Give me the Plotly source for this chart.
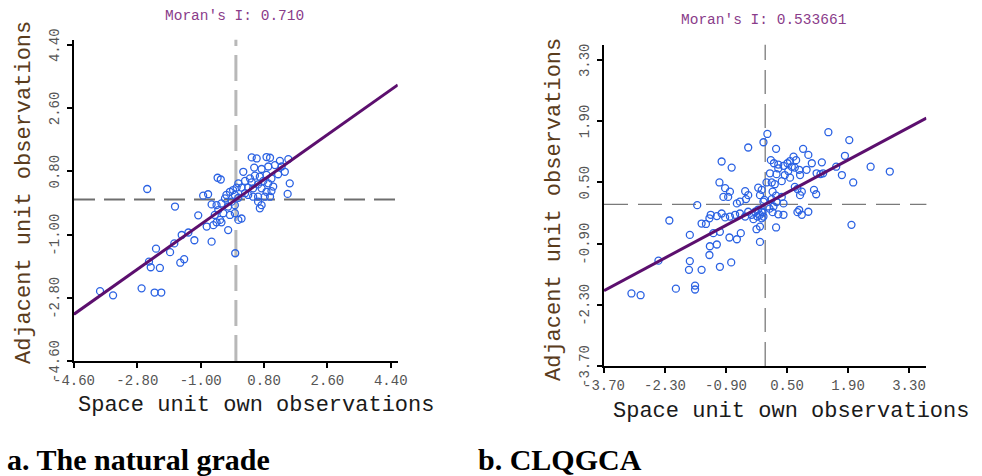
import plotly.graph_objects as go

# ---------------- data ----------------
moran_a = 0.710
moran_b = 0.533661

xa = [-2.52, -1.73, -1.07, -0.52, -0.43, -0.93, -0.79, -0.69, -0.55, -0.41,
      -0.31, -0.27, -0.17, -0.08, 0.02, -0.03, 0.07, -0.12, -0.22, -0.03,
      -0.50, -0.36, -0.60, -0.45, -0.55, -0.41, -0.17, -0.03, 0.16, 0.07,
      -0.22, -0.83, -0.64, 0.45, 0.59, 0.87, 0.97, 1.25, 1.49, 0.52,
      0.73, 0.92, 1.11, 1.30, 0.21, 0.40, 0.54, 0.68, 0.87, 1.01,
      1.20, 1.39, 0.26, 0.45, 0.63, 0.78, 0.92, 1.06, 0.07, 0.16,
      0.35, 0.49, 0.73, 0.87, 1.01, 0.82, 0.97, 0.63, 0.49, 0.35,
      0.26, 0.63, 0.73, 0.68, 1.53, 1.47, -1.54, -1.35, -1.18, -0.69,
      -0.02, -1.75, -2.27, -1.87, -1.47, -1.58, -2.47, -2.42, -2.16, -3.86,
      -3.49, -2.68, -2.31, -2.12]
ya = [0.30, -0.20, -0.45, 0.62, 0.57, 0.11, 0.15, -0.14, -0.16, -0.11,
      0.03, 0.13, 0.22, 0.27, 0.34, 0.13, 0.05, -0.06, -0.20, -0.16,
      -0.30, -0.39, -0.44, -0.58, -0.65, -0.65, -0.44, -0.39, -0.54, -0.58,
      -0.87, -0.77, -0.73, 1.20, 1.17, 1.21, 1.19, 1.10, 1.15, 0.91,
      0.87, 0.94, 0.98, 0.94, 0.79, 0.60, 0.68, 0.65, 0.70, 0.60,
      0.72, 0.79, 0.53, 0.49, 0.43, 0.53, 0.46, 0.37, 0.46, 0.34,
      0.34, 0.32, 0.32, 0.22, 0.24, 0.08, 0.08, 0.08, 0.08, 0.13,
      0.18, -0.06, -0.16, -0.25, 0.46, 0.16, -1.01, -0.94, -1.16, -1.20,
      -1.53, -1.25, -1.40, -1.50, -1.70, -1.80, -1.77, -1.93, -1.95, -2.61,
      -2.73, -2.53, -2.65, -2.65]

xb = [0.05, -0.04, -0.39, 0.25, -1.00, -0.77, 0.13, 0.30, 0.11, 0.26,
      -1.05, -0.92, -0.81, -0.96, -0.85, -0.46, -0.39, -0.16, -0.08, -0.12,
      0.03, 0.15, 0.22, -1.56, -0.65, -0.58, -0.44,
      -2.20, -1.46, -1.36, -1.28, -1.25, -1.11, -1.00, -0.92, -0.81, -0.69,
      -0.58, -0.46, -0.39, -0.31, -0.23, -0.16, -0.12, -0.06, -0.27, -0.18,
      -0.08, -1.73, -1.19, -1.04, -0.82, -0.65, -0.56, -0.20, -0.12, -0.12,
      -1.27, -1.11, -1.28, -2.45, -1.73, -1.75, -1.46, -1.04, -0.78, -2.05,
      -1.61, -1.61, -3.07, -2.86, 1.98, 0.25,
      1.45, 1.93, 0.87, 0.99, 0.65, 0.71, 0.20, 0.30, 0.42, 0.51,
      0.57, 0.61, 0.53, 0.45, 0.57, 0.68, 0.78, 0.80, 1.07, 1.30,
      0.95, 1.18, 1.27, 1.33, 1.63, 1.83, 1.76, 2.02, 2.42, 2.86,
      0.38, 0.68, 0.74, 0.80, 0.84, 1.12, 1.17, 0.17, 0.25, 0.38,
      0.26, 0.42, 0.19, 0.17, 0.30, 0.42, 0.78, 0.99, 0.74, 0.84,
      -0.04, -0.08, -0.04, 0.15, 0.05, 0.10, -0.02]
yb = [1.61, 1.42, 1.30, 1.27, 0.98, 0.84, 1.01, 0.91, 0.71, 0.69,
      0.50, 0.37, 0.29, 0.17, 0.17, 0.30, 0.21, 0.38, 0.33, 0.21,
      0.50, 0.50, 0.46, -0.02, 0.02, 0.06, 0.12,
      -0.37, -0.44, -0.45, -0.32, -0.24, -0.27, -0.21, -0.30, -0.28, -0.24,
      -0.21, -0.28, -0.17, -0.24, -0.17, -0.12, -0.24, -0.19, -0.34, -0.28,
      -0.32, -0.70, -0.66, -0.63, -0.76, -0.80, -0.66, -0.57, -0.51, -0.86,
      -0.96, -0.92, -1.16, -1.29, -1.30, -1.50, -1.50, -1.43, -1.33, -1.93,
      -1.86, -1.95, -2.04, -2.08, -0.47, -0.53,
      1.65, 1.47, 1.27, 1.13, 1.09, 1.01, 0.94, 0.82, 0.88, 0.94,
      0.99, 0.86, 0.76, 0.67, 0.61, 0.84, 0.79, 0.67, 0.94, 0.96,
      0.79, 0.71, 0.69, 0.71, 0.86, 1.11, 0.67, 0.50, 0.86, 0.75,
      0.53, 0.40, 0.35, 0.21, 0.29, 0.33, 0.23, 0.29, 0.20, 0.17,
      0.05, 0.02, -0.05, -0.18, -0.23, -0.24, -0.13, -0.17, -0.18, -0.24,
      0.06, -0.17, -0.28, 0.12, -0.05, -0.10, 0.10]

ticks_a = [-4.60, -2.80, -1.00, 0.80, 2.60, 4.40]
ticks_b = [-3.70, -2.30, -0.90, 0.50, 1.90, 3.30]
range_a = [-4.60, 4.60]
range_b = [-3.70, 3.70]
yrange_a = [-4.60, 4.55]
yrange_b = [-3.70, 3.65]

x_title = "Space unit own observations"
y_title = "Adjacent unit observations"
caption_a = "a. The natural grade"
caption_b = "b. CLQGCA"

# ---------------- styles ----------------
W, H = 982, 476
MONO = "Liberation Mono, DejaVu Sans Mono, monospace"
SERIF = "Liberation Serif, Times New Roman, serif"
PT_COLOR = "#2b62e3"
LINE_COLOR = "#5c0f6e"
TICK_FONT = dict(family=MONO, size=14, color="#555555")

fig = go.Figure()

def scatter(xs, ys, xaxis, yaxis):
    fig.add_trace(go.Scatter(
        x=xs, y=ys, mode="markers", xaxis=xaxis, yaxis=yaxis,
        marker=dict(symbol="circle-open", size=7, color=PT_COLOR,
                    line=dict(width=1.3, color=PT_COLOR)),
        showlegend=False, hoverinfo="skip"))

def regline(slope, xr, xaxis, yaxis):
    fig.add_trace(go.Scatter(
        x=xr, y=[slope * v for v in xr], mode="lines", xaxis=xaxis, yaxis=yaxis,
        line=dict(color=LINE_COLOR, width=3), showlegend=False, hoverinfo="skip"))

scatter(xa, ya, "x", "y")
regline(moran_a, range_a, "x", "y")
scatter(xb, yb, "x2", "y2")
regline(moran_b, range_b, "x2", "y2")

# zero reference lines
fig.add_shape(type="line", xref="x", yref="y domain", x0=0, x1=0, y0=0, y1=1,
              line=dict(color="#b8b8b8", width=3, dash="26px,9px"), layer="below")
fig.add_shape(type="line", xref="x domain", yref="y", x0=0, x1=1, y0=0, y1=0,
              line=dict(color="#6e6e6e", width=2, dash="21px,9px"), layer="below")
fig.add_shape(type="line", xref="x2", yref="y2 domain", x0=0, x1=0, y0=0, y1=1,
              line=dict(color="#7a7a7a", width=1.3, dash="24px,10px"), layer="below")
fig.add_shape(type="line", xref="x2 domain", yref="y2", x0=0, x1=1, y0=0, y1=0,
              line=dict(color="#7a7a7a", width=1.3, dash="24px,10px"), layer="below")

def ax(domain, rng, ticks, labels=True):
    return dict(domain=domain, range=rng, tickvals=ticks,
                ticktext=[f"{v:.2f}" for v in ticks], automargin=False,
                showline=True, linecolor="black", linewidth=2,
                ticks="outside", ticklen=5, tickwidth=2, tickcolor="black",
                showgrid=False, zeroline=False, showticklabels=labels,
                tickfont=TICK_FONT)

fig.update_layout(
    template="none",
    width=W, height=H, margin=dict(l=0, r=0, t=0, b=0, pad=0, autoexpand=False),
    paper_bgcolor="white", plot_bgcolor="white",
    xaxis=dict(**ax([74 / W, 397.8 / W], range_a, ticks_a), anchor="y"),
    yaxis=dict(**ax([(H - 361) / H, (H - 39.8) / H], yrange_a, ticks_a, False), anchor="x"),
    xaxis2=dict(**ax([604 / W, 926.4 / W], range_b, ticks_b), anchor="y2"),
    yaxis2=dict(**ax([(H - 366) / H, (H - 44.8) / H], yrange_b, ticks_b, False), anchor="x2"),
)

# rotated y tick labels, placed on the y axes' own scale
for ticks, yref, px in ((ticks_a, "y", 55), (ticks_b, "y2", 585)):
    for v in ticks:
        fig.add_annotation(text=f"{v:.2f}", xref="paper", yref=yref, x=px / W, y=v,
                           xanchor="center", yanchor="middle", showarrow=False,
                           textangle=-90, font=TICK_FONT)

def note(text, px, py, size, color, family=MONO, angle=0, xanchor="center", weight="normal"):
    fig.add_annotation(text=text, xref="paper", yref="paper", x=px / W, y=1 - py / H,
                       xanchor=xanchor, yanchor="middle", showarrow=False, textangle=angle,
                       font=dict(family=family, size=size, color=color, weight=weight))

note(f"Moran's I: {moran_a:.3f}", 234, 16, 14.5, "#8a3c8a")
note(f"Moran's I: {moran_b}", 763, 20, 14.5, "#8a3c8a")
note(y_title, 24, 193, 22, "#5a3c1c", angle=-90)
note(y_title, 554, 210, 22, "#5a3c1c", angle=-90)
note(x_title, 256, 405, 22, "#1a1a1a")
note(x_title, 791, 411, 22, "#1a1a1a")
note(caption_a, 5, 459, 30, "black", family=SERIF, xanchor="left", weight="bold")
note(caption_b, 476, 459, 30, "black", family=SERIF, xanchor="left", weight="bold")

fig.write_html(
    "out.html",
    config={"displayModeBar": False},
    post_script="document.body.style.margin='0';document.body.style.overflow='hidden';",
)
